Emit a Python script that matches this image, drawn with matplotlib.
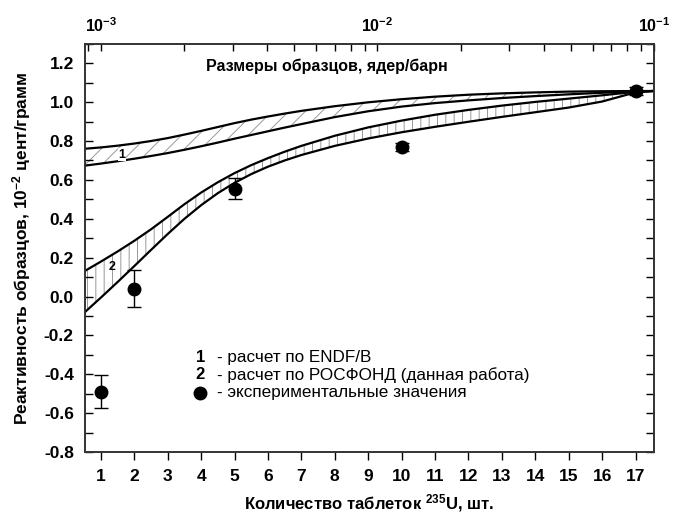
import matplotlib
matplotlib.use("Agg")
import matplotlib.pyplot as plt
from matplotlib.ticker import MultipleLocator, FixedLocator, FixedFormatter, NullFormatter

plt.rcParams['font.family'] = ['Liberation Sans Narrow', 'Liberation Sans', 'DejaVu Sans']
plt.rcParams['mathtext.fontset'] = 'custom'
plt.rcParams['mathtext.bf'] = 'Liberation Sans:bold'
plt.rcParams['mathtext.rm'] = 'Liberation Sans:bold'
plt.rcParams['mathtext.default'] = 'bf'
plt.rcParams['hatch.linewidth'] = 0.7

# ---- data ----
n_calc = [0.5, 1, 1.5, 2, 2.5, 3, 3.5, 4, 4.5, 5, 5.5, 6, 6.5, 7,
          8, 9, 10, 11, 12, 13, 14, 15, 16, 17, 17.5]
endf_upper = [0.76, 0.767, 0.776, 0.787, 0.80, 0.815, 0.833, 0.852, 0.872, 0.892, 0.91,
              0.926, 0.941, 0.955, 0.979, 0.999, 1.015, 1.028, 1.038, 1.045, 1.05, 1.054,
              1.056, 1.057, 1.057]
endf_lower = [0.673, 0.684, 0.696, 0.709, 0.723, 0.738, 0.755, 0.773, 0.792, 0.812, 0.831,
              0.85, 0.869, 0.887, 0.923, 0.953, 0.977, 0.995, 1.009, 1.021, 1.031, 1.04,
              1.048, 1.055, 1.057]
rosf_upper = [0.13, 0.18, 0.232, 0.287, 0.346, 0.41, 0.475, 0.535, 0.588, 0.635, 0.676,
              0.712, 0.745, 0.775, 0.827, 0.87, 0.905, 0.935, 0.96, 0.982, 1.001, 1.018,
              1.035, 1.053, 1.057]
rosf_lower = [-0.083, -0.005, 0.075, 0.157, 0.24, 0.322, 0.40, 0.47, 0.532, 0.585, 0.63,
              0.668, 0.70, 0.728, 0.775, 0.813, 0.845, 0.873, 0.899, 0.924, 0.948, 0.972,
              1.003, 1.05, 1.057]

n_exp = [1, 2, 5, 10, 17]
exp_val = [-0.49, 0.04, 0.555, 0.77, 1.057]
exp_err = [0.085, 0.095, 0.055, 0.02, 0.02]

x_ticks = list(range(1, 18))
y_ticks = [-0.8, -0.6, -0.4, -0.2, 0.0, 0.2, 0.4, 0.6, 0.8, 1.0, 1.2]
top_ticks = [1e-3, 1e-2, 1e-1]
top_labels = [r'$\mathbf{10^{-3}}$', r'$\mathbf{10^{-2}}$', r'$\mathbf{10^{-1}}$']

fig = plt.figure(figsize=(6.79, 5.15), dpi=100)
ax = fig.add_axes([0.125, 0.122, 0.838, 0.793])

ax.fill_between(n_calc, endf_lower, endf_upper, facecolor='none', edgecolor='#999999',
                hatch='//', linewidth=0)
ax.fill_between(n_calc, rosf_lower, rosf_upper, facecolor='none', edgecolor='#999999',
                hatch='||', linewidth=0)
for c in (endf_upper, endf_lower, rosf_upper, rosf_lower):
    ax.plot(n_calc, c, color='black', lw=1.6, zorder=3, solid_joinstyle='round')

ax.errorbar(n_exp, exp_val, yerr=exp_err, fmt='o', color='black', ms=9,
            capsize=5, elinewidth=1.0, capthick=1.0, zorder=5)

ax.text(1.63, 0.73, '1', fontsize=9, fontweight='bold', ha='center', va='center',
        bbox=dict(facecolor='white', edgecolor='none', pad=0.5), zorder=4)
ax.text(1.33, 0.15, '2', fontsize=9, fontweight='bold', ha='center', va='center', zorder=4)

ax.set_xlim(0.52, 17.55)
ax.set_ylim(-0.8, 1.3)
ax.xaxis.set_major_locator(FixedLocator(x_ticks))
ax.yaxis.set_major_locator(FixedLocator(y_ticks))
ax.yaxis.set_minor_locator(MultipleLocator(0.1))
ax.set_yticklabels([f'{v:.1f}' for v in y_ticks])
ax.tick_params(axis='y', which='both', direction='in', right=True, labelsize=12.5, width=1, pad=8)
ax.tick_params(axis='y', which='major', length=6)
ax.tick_params(axis='y', which='minor', length=6)
ax.tick_params(axis='x', which='major', direction='out', length=6, width=1, labelsize=12.5, pad=6, top=False)
for lab in ax.get_xticklabels() + ax.get_yticklabels():
    lab.set_fontweight('bold')
for s in ax.spines.values():
    s.set_linewidth(1.2)
    s.set_color('#333333')

ax.set_xlabel('Количество таблеток $^{235}$U, шт.', fontsize=12, fontweight='bold',
              family=['Liberation Sans Narrow', 'Liberation Sans'], labelpad=6)
ax.set_ylabel('Реактивность образцов, 10$^{-2}$ цент/грамм', fontsize=12.5, fontweight='bold',
              family=['Liberation Sans'], labelpad=8)

ax.text(7.76, 1.186, 'Размеры образцов, ядер/барн', fontsize=11.5, fontweight='bold',
        family=['Liberation Sans'], ha='center', va='center')

# legend as text
ax.text(3.97, -0.314, '1', fontsize=12, fontweight='bold', ha='center', va='center',
        family=['Liberation Sans'])
ax.text(3.97, -0.402, '2', fontsize=12, fontweight='bold', ha='center', va='center',
        family=['Liberation Sans'])
ax.plot([3.97], [-0.495], 'o', color='black', ms=9)
ax.text(4.48, -0.314, '- расчет по ENDF/В', fontsize=12.3, va='center', family=['Liberation Sans'])
ax.text(4.48, -0.402, '- расчет по РОСФОНД (данная работа)', fontsize=12.3, va='center',
        family=['Liberation Sans'])
ax.text(4.48, -0.495, '- экспериментальные значения', fontsize=12.3, va='center',
        family=['Liberation Sans'])

# top log axis
ax2 = ax.twiny()
ax2.set_xscale('log')
ax2.set_xlim(10 ** -3.058, 10 ** -1.0)
ax2.xaxis.set_major_locator(FixedLocator(top_ticks))
ax2.xaxis.set_major_formatter(FixedFormatter(top_labels))
ax2.xaxis.set_minor_formatter(NullFormatter())
ax2.tick_params(axis='x', which='both', direction='in', length=5, width=1, labelsize=11.5, pad=6)
for s in ax2.spines.values():
    s.set_linewidth(1.2)
    s.set_color('#333333')

fig.savefig('out.png', dpi=100)
